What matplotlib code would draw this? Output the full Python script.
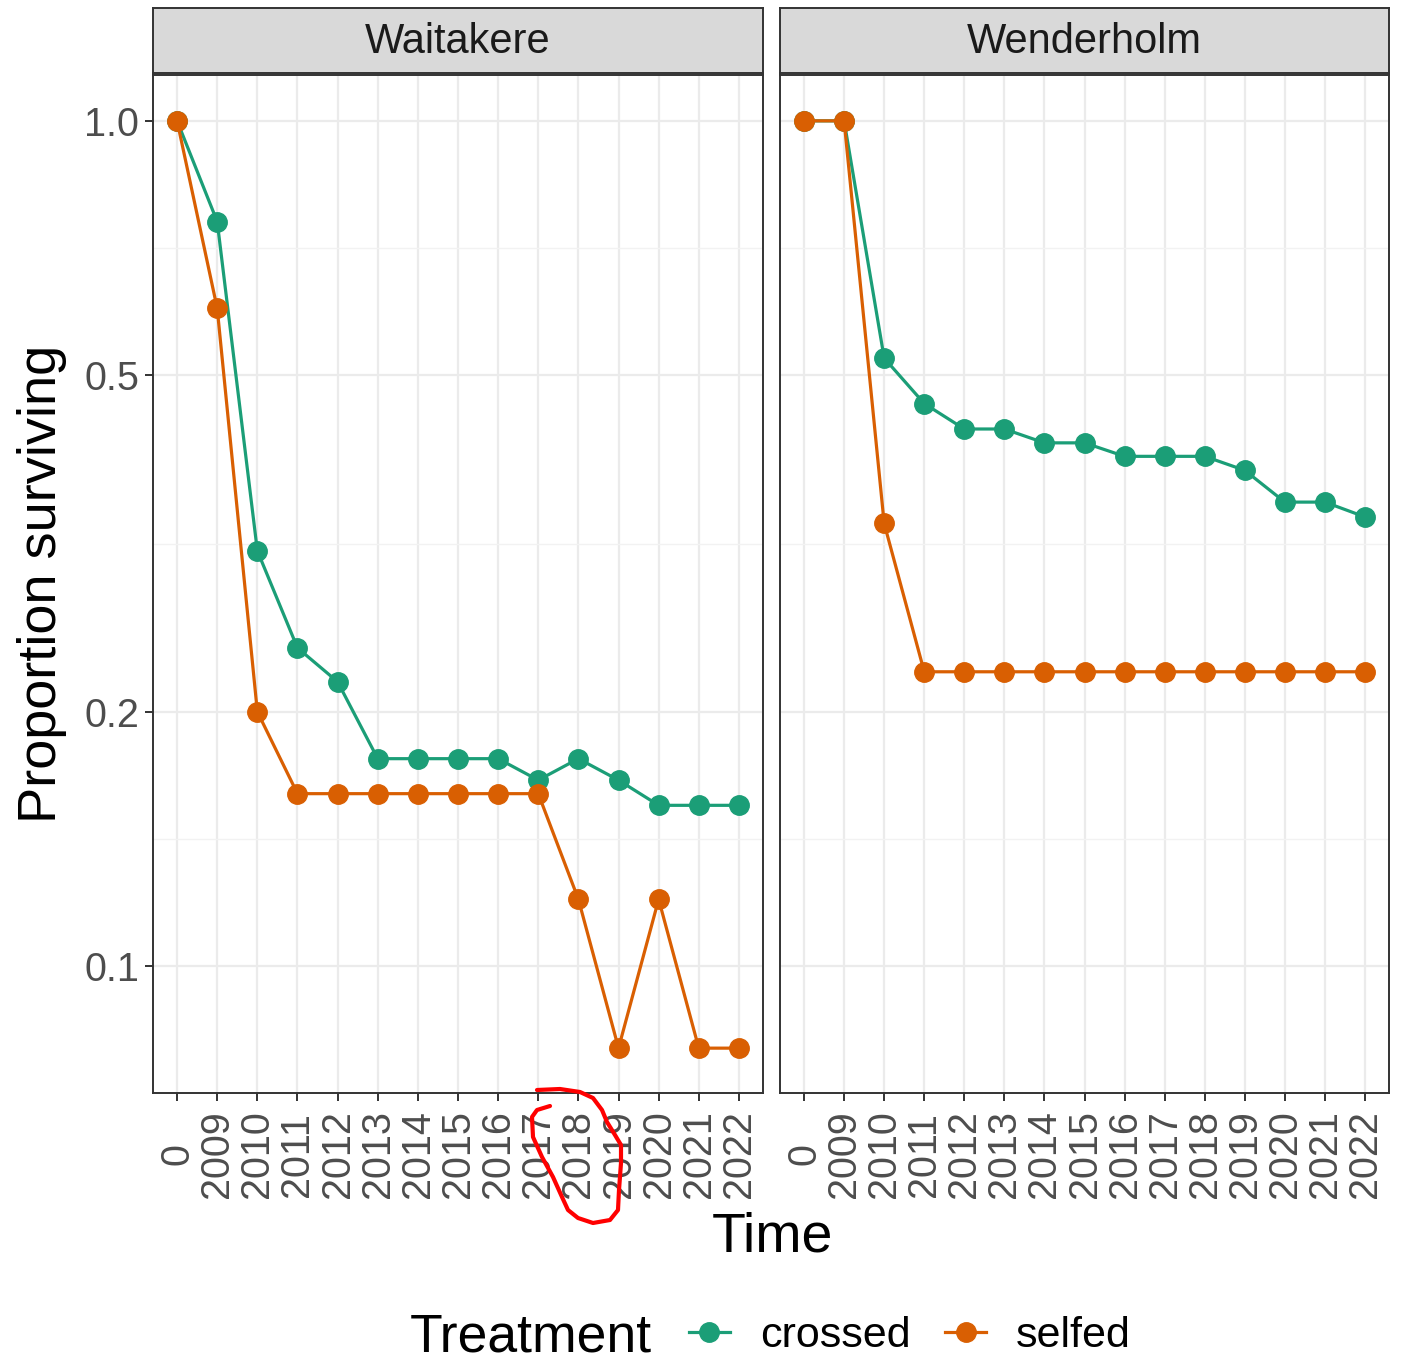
import numpy as np
import matplotlib.pyplot as plt
from matplotlib.lines import Line2D

plt.rcParams['font.family'] = ['Liberation Sans', 'DejaVu Sans']

times = ["0", "2009", "2010", "2011", "2012", "2013", "2014", "2015",
         "2016", "2017", "2018", "2019", "2020", "2021", "2022"]
sites = ["Waitakere", "Wenderholm"]
treatments = ["crossed", "selfed"]
colors = {"crossed": "#1B9E77", "selfed": "#D95F02"}

waitakere_crossed = [1.0, 0.76, 0.31, 0.238, 0.217, 0.176, 0.176, 0.176,
                     0.176, 0.166, 0.176, 0.166, 0.155, 0.155, 0.155]
waitakere_selfed = [1.0, 0.60, 0.20, 0.16, 0.16, 0.16, 0.16, 0.16,
                    0.16, 0.16, 0.12, 0.08, 0.12, 0.08, 0.08]
wenderholm_crossed = [1.0, 1.0, 0.524, 0.463, 0.432, 0.432, 0.416, 0.416,
                      0.401, 0.401, 0.401, 0.386, 0.354, 0.354, 0.340]
wenderholm_selfed = [1.0, 1.0, 0.334, 0.223, 0.223, 0.223, 0.223, 0.223,
                     0.223, 0.223, 0.223, 0.223, 0.223, 0.223, 0.223]

data = {
    "Waitakere": {"crossed": waitakere_crossed, "selfed": waitakere_selfed},
    "Wenderholm": {"crossed": wenderholm_crossed, "selfed": wenderholm_selfed},
}

yticks = [0.1, 0.2, 0.5, 1.0]
yminor = [np.sqrt(0.1 * 0.2), np.sqrt(0.2 * 0.5), np.sqrt(0.5 * 1.0)]

W, H = 1403, 1365
fig = plt.figure(figsize=(W / 100, H / 100), dpi=100)

def fx(px):
    return px / W

def fy(py):
    return 1 - py / H

panel_x = [(153, 763), (780, 1389)]
top, bottom = 75, 1093
x = np.arange(len(times))

for i, site in enumerate(sites):
    x0, x1 = panel_x[i]
    ax = fig.add_axes([fx(x0), fy(bottom), fx(x1 - x0), (bottom - top) / H])
    ax.set_yscale("log")
    ax.set_xlim(-0.6, len(times) - 0.4)
    ax.set_ylim(0.0708, 1.133)

    for t in treatments:
        ax.plot(x, data[site][t], color=colors[t], lw=2.3, marker="o",
                markersize=14, zorder=3)

    ax.set_xticks(x)
    ax.set_xticklabels(times, rotation=90, ha="center", va="center",
                       fontsize=28.5, color="#4D4D4D")
    ax.set_yticks(yticks)
    ax.set_yticks(yminor, minor=True)
    ax.set_yticklabels(["0.1", "0.2", "0.5", "1.0"], fontsize=28.5, color="#4D4D4D")
    ax.yaxis.set_minor_formatter(plt.NullFormatter())
    ax.tick_params(axis="x", length=6, width=1.4, color="#333333", pad=38)
    ax.tick_params(axis="y", which="major", length=6, width=1.4, color="#333333", pad=4)
    ax.tick_params(axis="y", which="minor", length=0)
    if i == 1:
        ax.tick_params(axis="y", which="both", left=False, labelleft=False)

    ax.grid(True, which="major", color="#EBEBEB", lw=1.6, zorder=0)
    ax.grid(True, which="minor", axis="y", color="#F2F2F2", lw=1.0, zorder=0)
    ax.set_axisbelow(True)
    for s in ax.spines.values():
        s.set_color("#333333")
        s.set_linewidth(1.4)

    # facet strip
    sax = fig.add_axes([fx(x0), fy(73), fx(x1 - x0), 65 / H])
    sax.set_facecolor("#D9D9D9")
    sax.set_xticks([])
    sax.set_yticks([])
    for s in sax.spines.values():
        s.set_color("#333333")
        s.set_linewidth(1.4)
    sax.text(0.5, 0.48, site, ha="center", va="center", fontsize=30,
             color="#1A1A1A", transform=sax.transAxes)

fig.text(fx(42), fy(584), "Proportion surviving", rotation=90, ha="center",
         va="center", fontsize=39)
fig.text(fx(772), fy(1237), "Time", ha="center", va="center", fontsize=40)

# legend
fig.text(fx(410), fy(1338), "Treatment", ha="left", va="center", fontsize=38.5)
handles = [Line2D([], [], color=colors[t], lw=2.3, marker="o", markersize=14)
           for t in treatments]
fig.legend(handles, treatments, loc="center", bbox_to_anchor=(fx(910), fy(1336)),
           ncol=2, frameon=False, fontsize=31, handlelength=0.95,
           handletextpad=0.7, columnspacing=0.8, borderaxespad=0)

# red hand-drawn mark around 2017/2018 labels
mark_px = [(537, 1090), (560, 1089), (580, 1092), (593, 1098), (602, 1110),
           (607, 1122), (615, 1135), (621, 1145), (621, 1163), (619, 1190),
           (618, 1210), (610, 1220), (593, 1223), (578, 1218), (568, 1210),
           (562, 1197), (553, 1177), (542, 1157), (533, 1137), (532, 1117),
           (537, 1110), (550, 1106)]
fig.add_artist(Line2D([fx(p[0]) for p in mark_px], [fy(p[1]) for p in mark_px],
                      color="#FF0000", lw=3, transform=fig.transFigure,
                      solid_capstyle="round", solid_joinstyle="round"))

fig.savefig("out.png", dpi=100, facecolor="white")
